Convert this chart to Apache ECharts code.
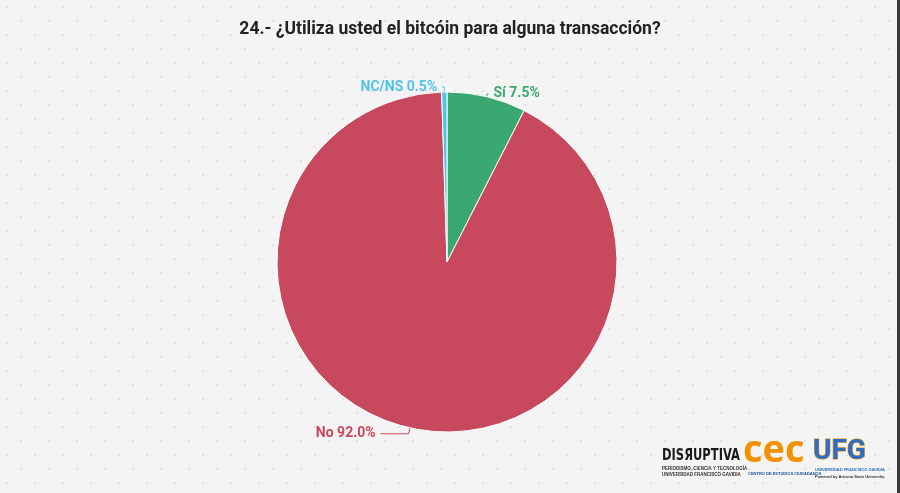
<!DOCTYPE html>
<html>
<head>
<meta charset="utf-8">
<script src="https://cdn.jsdelivr.net/npm/echarts@6/dist/echarts.min.js"></script>
<style>
html,body{margin:0;padding:0;background:#f4f4f4;}
#chart{width:900px;height:493px;}
</style>
</head>
<body>
<div id="chart"></div>
<script>
const titleText = "24.- ¿Utiliza usted el bitcóin para alguna transacción?";
const categories = ["Sí", "No", "NC/NS"];
const values = [7.5, 92.0, 0.5];
const colors = ["#3aa870", "#c8495e", "#4fc3ea"];

// dot pattern background
const pat = document.createElement('canvas');
pat.width = 28; pat.height = 28;
const pc = pat.getContext('2d');
pc.fillStyle = '#f4f4f4';
pc.fillRect(0, 0, 28, 28);
pc.fillStyle = '#e2e2e2';
[[7,7],[21,21]].forEach(function(p){ pc.beginPath(); pc.arc(p[0], p[1], 1.3, 0, Math.PI*2); pc.fill(); });

const lineLen = {"Sí": [3, 1], "No": [6, 28], "NC/NS": [5, 2]};

const chart = echarts.init(document.getElementById('chart'), null, {renderer: 'canvas'});
const option = {
  backgroundColor: {image: pat, repeat: 'repeat'},
  animation: false,
  title: {
    text: titleText,
    left: 'center', top: 16,
    textStyle: {fontFamily: 'Roboto', fontWeight: 'bold', fontSize: 17.5, color: '#222'}
  },
  series: [{
    type: 'pie',
    center: [447, 262],
    radius: [0, 170],
    startAngle: 90,
    clockwise: true,
    avoidLabelOverlap: true,
    itemStyle: {borderColor: '#ffffff', borderWidth: 1},
    label: {
      show: true,
      fontFamily: 'Roboto', fontWeight: 'bold', fontSize: 14,
      formatter: function(p){ return p.name + ' ' + p.value.toFixed(1) + '%'; },
      color: 'inherit'
    },
    labelLine: {show: true, length: 8, length2: 6, lineStyle: {width: 1}},
    data: categories.map(function(c, i){
      return {name: c, value: values[i], itemStyle: {color: colors[i]},
              label: {color: colors[i]},
              labelLine: {length: lineLen[c][0], length2: lineLen[c][1], lineStyle: {color: colors[i]}}};
    })
  }],
  graphic: [
    {type: 'rect', right: 0, top: 0, shape: {width: 3, height: 493}, style: {fill: '#3a3a3a'}},
    {type: 'text', x: 662, y: 448, scaleX: 0.8, style: {text: 'DISЯUPTIVA', font: 'bold 16px "DejaVu Sans Condensed", sans-serif', fill: '#1a1a1a'}},
    {type: 'text', x: 662, y: 466, style: {text: 'PERIODISMO, CIENCIA Y TECNOLOGÍA', font: 'bold 4.5px sans-serif', fill: '#333'}},
    {type: 'text', x: 662, y: 472, style: {text: 'UNIVERSIDAD FRANCISCO GAVIDIA', font: 'bold 4.5px sans-serif', fill: '#333'}},
    {type: 'text', x: 743, y: 432, style: {text: 'cec', font: 'bold 38px "Open Sans", sans-serif', fill: '#f39200'}},
    {type: 'text', x: 748, y: 472, style: {text: 'CENTRO DE ESTUDIOS CIUDADANOS', font: 'bold 4px sans-serif', fill: '#1d4f9c'}},
    {type: 'text', x: 813, y: 438, style: {text: 'UFG', font: 'bold 28px "Roboto", sans-serif', fill: '#2f6dc3', stroke: '#f39200', lineWidth: 1}},
    {type: 'text', x: 815, y: 468, style: {text: 'UNIVERSIDAD FRANCISCO GAVIDIA', font: 'bold 4px sans-serif', fill: '#2f6dc3'}},
    {type: 'text', x: 815, y: 475, style: {text: 'Powered by Arizona State University', font: 'bold 4px sans-serif', fill: '#333'}}
  ]
};
chart.setOption(option);
</script>
</body>
</html>
